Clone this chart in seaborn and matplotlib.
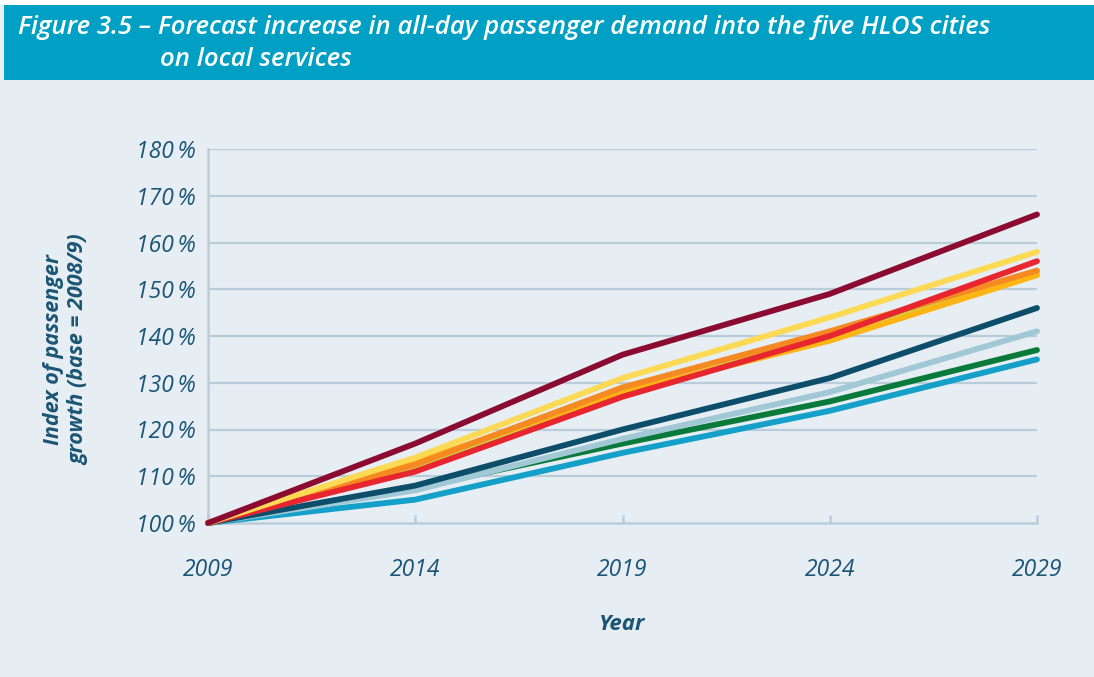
import matplotlib
matplotlib.use("Agg")
import matplotlib.pyplot as plt
from matplotlib.patches import Rectangle
import seaborn as sns
import pandas as pd

# ---- data ----
years = [2009, 2014, 2019, 2024, 2029]
series_names = ["Lime", "Cyan", "Green", "Light blue", "Navy",
                "Gold", "Orange", "Red", "Yellow", "Maroon"]
lime = [100, 112, 127.5, 140, 153.5]
cyan = [100, 105, 115, 124, 135]
green = [100, 107.5, 117, 126, 137]
light_blue = [100, 107, 118, 128, 141]
navy = [100, 108, 120, 131, 146]
gold = [100, 113, 128, 139, 153]
orange = [100, 112.5, 129, 141, 154]
red = [100, 111, 127, 140, 156]
yellow = [100, 114, 131, 144, 158]
maroon = [100, 117, 136, 149, 166]
values = [lime, cyan, green, light_blue, navy, gold, orange, red, yellow, maroon]
colors = ["#C6D84B", "#14A0C8", "#0A7A3B", "#A1C8D5", "#0D4E6B",
          "#FDB515", "#F58A22", "#E8262F", "#FDDA55", "#8C0B30"]
y_ticks = [100, 110, 120, 130, 140, 150, 160, 170, 180]
y_tick_labels = [f"{v}\u2009%" for v in y_ticks]

rows = []
for name, vals in zip(series_names, values):
    for yr, v in zip(years, vals):
        rows.append({"Year": yr, "Index": v, "Series": name})
df = pd.DataFrame(rows)

# ---- style ----
sns.set_theme(style="white")
bg = "#E6EEF4"
text_col = "#1B5575"
grid_col = "#B9CCDA"
plt.rcParams["font.family"] = ["Open Sans", "DejaVu Sans"]

fig = plt.figure(figsize=(10.94, 6.77), dpi=100, facecolor=bg)
ax = fig.add_axes([208 / 1094, 1 - 523 / 677, (1037 - 208) / 1094, (523 - 149) / 677])
ax.set_facecolor(bg)

sns.lineplot(data=df, x="Year", y="Index", hue="Series", hue_order=series_names,
             palette=dict(zip(series_names, colors)), linewidth=4.2, legend=False,
             ax=ax, solid_capstyle="round", clip_on=False, sort=False)
for ln in ax.lines:
    ln.set_solid_capstyle("round")
    ln.set_clip_on(False)
    ln.set_zorder(5)

ax.set_xlim(2009, 2029)
ax.set_ylim(100, 180)
ax.set_xticks(years)
ax.set_xticklabels([str(y) for y in years])
ax.set_yticks(y_ticks)
ax.set_yticklabels(y_tick_labels)

for v in y_ticks[1:]:
    ax.axhline(v, color=grid_col, lw=1.6, zorder=1)

for s in ["top", "right"]:
    ax.spines[s].set_visible(False)
for s in ["left", "bottom"]:
    ax.spines[s].set_color(grid_col)
    ax.spines[s].set_linewidth(1.8)
    ax.spines[s].set_zorder(1)

ax.tick_params(axis="x", direction="in", length=6, width=1.8, color=grid_col,
               pad=25, labelsize=16.5, labelcolor=text_col, bottom=True)
ax.tick_params(axis="y", length=0, pad=9, labelsize=16.5, labelcolor=text_col, left=False)
for lab in ax.get_xticklabels() + ax.get_yticklabels():
    lab.set_fontstyle("italic")

ax.set_xlabel("")
ax.set_ylabel("")

fig.text(622 / 1094, 1 - 625 / 677, "Year", ha="center", va="center",
         fontsize=16, fontweight="bold", fontstyle="italic", color=text_col)
fig.text(66 / 1094, 1 - 350 / 677, "Index of passenger\ngrowth (base = 2008/9)",
         ha="center", va="center", rotation=90, fontsize=15.5, fontweight="bold",
         fontstyle="italic", color=text_col, linespacing=1.3)

# title bar
fig.patches.append(Rectangle((4 / 1094, 1 - 80 / 677), 1, 75 / 677,
                             transform=fig.transFigure, facecolor="#00A0C5",
                             edgecolor="none", zorder=0))
fig.patches.append(Rectangle((0, 1 - 5 / 677), 1, 5 / 677,
                             transform=fig.transFigure, facecolor="white",
                             edgecolor="none", zorder=0))
fig.text(18 / 1094, 1 - 28 / 677,
         "Figure 3.5 \u2013 Forecast increase in all-day passenger demand into the five HLOS cities",
         ha="left", va="center", fontsize=18.5, fontstyle="italic", fontweight="semibold",
         color="white")
fig.text(160 / 1094, 1 - 60 / 677, "on local services",
         ha="left", va="center", fontsize=18.5, fontstyle="italic", fontweight="semibold",
         color="white")

fig.savefig("out.png", dpi=100, facecolor=bg)
